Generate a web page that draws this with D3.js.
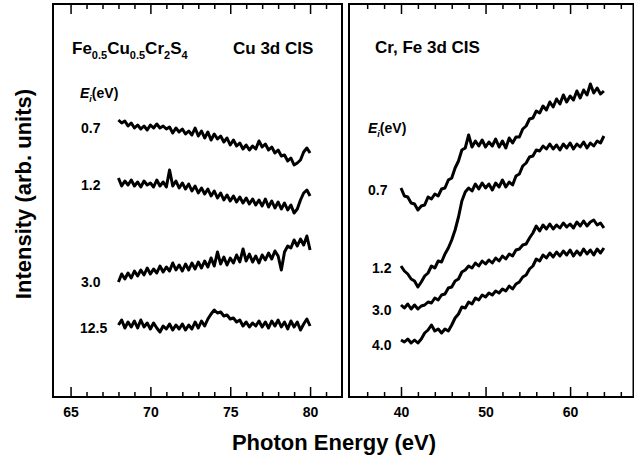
<!DOCTYPE html>
<html>
<head>
<meta charset="utf-8">
<script src="https://cdn.jsdelivr.net/npm/d3@7"></script>
<style>
  body { margin: 0; background: #fff; }
  svg { display: block; }
  text { font-family: "Liberation Sans", Arial, Helvetica, sans-serif; font-weight: bold; fill: #000; }
  .tick text { font-size: 14px; }
  .tick line { stroke: #000; stroke-width: 1.5; }
</style>
</head>
<body>
<svg id="chart" width="634" height="462"></svg>
<script>
// Photon energies (eV) of the two scans
const energyCu = [68,68.2,68.4,68.6,68.8,69,69.2,69.4,69.6,69.8,70,70.2,70.4,70.6,70.8,71,71.2,71.4,71.6,71.8,
  72,72.2,72.4,72.6,72.8,73,73.2,73.4,73.6,73.8,74,74.2,74.4,74.6,74.8,75,75.2,75.4,75.6,75.8,
  76,76.2,76.4,76.6,76.8,77,77.2,77.4,77.6,77.8,78,78.2,78.4,78.6,78.8,79,79.2,79.4,79.6,79.8,80];
const energyCrFe = [40,40.4,40.8,41.2,41.6,42,42.4,42.8,43.2,43.6,44,44.4,44.8,45.2,45.6,46,46.4,46.8,47.2,47.6,
  48,48.4,48.8,49.2,49.6,50,50.4,50.8,51.2,51.6,52,52.4,52.8,53.2,53.6,54,54.4,54.8,55.2,55.6,
  56,56.4,56.8,57.2,57.6,58,58.4,58.8,59.2,59.6,60,60.4,60.8,61.2,61.6,62,62.4,62.8,63.2,63.6,64];

// Cu 3d CIS intensities (arb. units, curves already offset)
const cu07 = [277,274,276,271,274,269,272,268,271,267,272,269,273,269,271,268,270,264,269,265,
  268,263,266,262,269,261,266,259,265,257,263,258,261,255,259,252,257,251,254,248,
  252,247,251,248,256,250,253,247,250,244,247,241,242,236,239,232,234,237,245,249,244];
const cu12 = [219,211,216,212,217,211,215,210,216,212,214,210,217,211,215,210,227,211,216,209,
  214,208,213,206,211,204,209,203,208,201,206,199,204,197,202,196,201,195,200,194,
  199,193,198,192,197,191,198,190,196,189,195,188,194,187,192,184,188,197,204,207,201];
const cu30 = [115,123,118,124,119,126,121,127,122,129,123,128,124,131,125,130,126,134,127,132,
  126,133,127,134,128,135,129,136,130,139,131,145,133,140,132,139,134,142,135,148,
  136,143,135,141,134,142,137,144,138,146,141,127,145,151,149,157,151,158,152,161,147];
const cu125 = [72,77,69,75,70,76,69,77,70,74,68,74,69,65,71,68,73,67,72,68,
  73,67,72,68,75,69,76,71,78,83,87,84,85,81,82,78,79,75,77,71,
  75,70,74,71,76,70,75,69,76,71,77,70,75,68,76,70,75,67,73,78,71];

// Cr, Fe 3d CIS intensities (arb. units, curves already offset)
const crfe07 = [209,201,200,194,193,187,191,192,200,198,203,201,208,209,217,219,229,236,247,249,
  262,250,256,251,257,250,255,251,258,250,256,249,259,254,260,260,268,271,278,279,
  286,284,291,287,295,290,298,293,302,295,301,297,306,299,307,302,313,304,309,303,306];
const crfe12 = [131,126,123,118,116,110,115,121,124,131,129,136,135,143,149,157,167,180,196,205,
  209,206,213,208,214,209,213,207,214,210,217,210,215,212,221,223,231,234,240,241,
  247,246,251,248,253,248,252,247,253,249,254,248,253,250,255,249,254,251,256,254,261];
const crfe30 = [92,89,93,88,92,88,91,92,95,94,99,97,102,103,109,110,116,118,125,127,
  131,129,134,131,136,133,137,134,139,136,141,138,143,141,147,148,152,153,159,164,
  171,166,172,168,173,168,172,169,174,170,173,169,175,171,176,171,175,177,172,174,169];
const crfe40 = [57,55,58,54,57,54,58,64,67,72,66,68,64,68,66,72,79,83,90,89,
  95,93,99,97,102,100,104,102,106,104,108,106,111,108,113,115,120,122,128,131,
  138,136,142,139,144,140,145,141,146,142,147,141,146,142,148,143,147,142,148,144,149];

// Initial-state energies labelling each curve
const cuLabels = ['0.7', '1.2', '3.0', '12.5'];
const crfeLabels = ['0.7', '1.2', '3.0', '4.0'];

// Tick values
const cuMajor = [65, 70, 75, 80];
const cuMinor = d3.range(65, 82, 1);
const crfeMajor = [40, 50, 60];
const crfeMinor = d3.range(36, 67, 2);

const svg = d3.select('#chart');
const plotTop = 4, plotBottom = 397;

const y = d3.scaleLinear().domain([0, 393]).range([plotBottom, plotTop]);
const xCu = d3.scaleLinear().domain([63.9, 82]).range([53, 342]);
const xCrFe = d3.scaleLinear().domain([33.85, 67.5]).range([349, 633.5]);

function addAxes(x, major, minor){
	// bottom axis with labels, ticks pointing inward
	const g = svg.append('g');
	g.append('g')
		.attr('class', 'x axis')
		.attr('transform', `translate(0,${plotBottom})`)
		.call(d3.axisBottom(x).tickValues(major).tickSize(-10).tickPadding(10));
	g.append('g')
		.attr('transform', `translate(0,${plotBottom})`)
		.call(d3.axisBottom(x).tickValues(minor.filter(v => !major.includes(v))).tickSize(-5).tickFormat(''));

	// mirrored ticks along the top edge
	g.append('g')
		.attr('transform', `translate(0,${plotTop})`)
		.call(d3.axisTop(x).tickValues(major).tickSize(-10).tickFormat(''));
	g.append('g')
		.attr('transform', `translate(0,${plotTop})`)
		.call(d3.axisTop(x).tickValues(minor.filter(v => !major.includes(v))).tickSize(-5).tickFormat(''));

	g.selectAll('.domain').remove();
	g.selectAll('.tick text').attr('font-family', null).attr('font-size', null);

	// panel frame
	const [x0, x1] = x.range();
	svg.append('rect')
		.attr('x', x0).attr('y', plotTop)
		.attr('width', x1 - x0).attr('height', plotBottom - plotTop)
		.attr('fill', 'none').attr('stroke', '#000').attr('stroke-width', 2);
}

function addCurves(x, energy, series){
	const line = d3.line()
		.x((d, i) => x(energy[i]))
		.y(d => y(d));
	svg.append('g').selectAll('path')
		.data(series)
		.join('path')
		.attr('d', line)
		.attr('fill', 'none')
		.attr('stroke', '#000')
		.attr('stroke-width', 3)
		.attr('stroke-linejoin', 'round');
}

function addLabels(labels, xs, ys){
	svg.append('g').selectAll('text')
		.data(labels)
		.join('text')
		.attr('x', (d, i) => xs[i])
		.attr('y', (d, i) => ys[i])
		.attr('font-size', 14)
		.text(d => d);
}

function addEi(xPos, yPos){
	const t = svg.append('text').attr('x', xPos).attr('y', yPos).attr('font-size', 14);
	t.append('tspan').attr('font-style', 'italic').text('E');
	t.append('tspan').attr('font-style', 'italic').attr('font-size', 9).attr('dy', 4).text('i');
	t.append('tspan').attr('dy', -4).text('(eV)');
}

addAxes(xCu, cuMajor, cuMinor);
addAxes(xCrFe, crfeMajor, crfeMinor);

addCurves(xCu, energyCu, [cu07, cu12, cu30, cu125]);
addCurves(xCrFe, energyCrFe, [crfe07, crfe12, crfe30, crfe40]);

addLabels(cuLabels, [81, 81, 81, 80], [133, 190, 287, 333]);
addLabels(crfeLabels, [368, 372, 372, 372], [195, 273, 315, 350]);

addEi(80, 98);
addEi(368, 133);

// compound formula with subscripts
const formula = svg.append('text').attr('x', 72).attr('y', 54).attr('font-size', 17);
[['Fe', 0], ['0.5', 1], ['Cu', 0], ['0.5', 1], ['Cr', 0], ['2', 1], ['S', 0], ['4', 1]].forEach(([s, sub], i, arr) => {
	const prevSub = i > 0 && arr[i - 1][1];
	const span = formula.append('tspan').text(s);
	if (sub) span.attr('font-size', 11).attr('dy', 5);
	else if (prevSub) span.attr('dy', -5);
});

svg.append('text').attr('x', 233).attr('y', 54).attr('font-size', 17).text('Cu 3d CIS');
svg.append('text').attr('x', 375).attr('y', 53).attr('font-size', 17).text('Cr, Fe 3d CIS');

// axis titles
svg.append('text')
	.attr('x', 334).attr('y', 450)
	.attr('text-anchor', 'middle')
	.attr('font-size', 22)
	.text('Photon Energy (eV)');

svg.append('text')
	.attr('transform', 'translate(31,194) rotate(-90)')
	.attr('text-anchor', 'middle')
	.attr('font-size', 22)
	.text('Intensity (arb. units)');
</script>
</body>
</html>
